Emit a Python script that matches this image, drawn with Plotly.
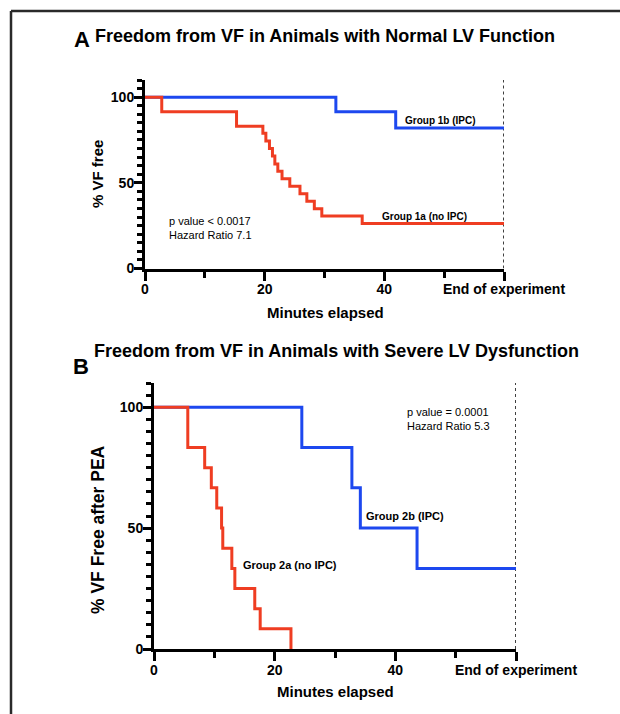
import plotly.graph_objects as go

# ---------------- data ----------------
# Panel A: Normal LV function (Kaplan-Meier step points)
a_ipc_t = [0, 31.9, 41.9, 60]
a_ipc_v = [100, 91.4, 82.0, 82.0]
a_noipc_t = [0, 2.8, 15.3, 19.7, 20.2, 20.8, 21.3, 21.7, 22.2, 22.9, 24.2,
             25.9, 27.05, 28.3, 29.55, 36.3, 60]
a_noipc_v = [100, 91.4, 83.0, 78.9, 74.4, 70.0, 65.6, 61.0, 56.8, 52.4, 48.0,
             43.6, 39.2, 34.8, 30.6, 26.3, 26.3]

# Panel B: Severe LV dysfunction
b_ipc_t = [0, 24.5, 32.8, 34.2, 43.6, 60]
b_ipc_v = [100, 83.33, 66.67, 50.0, 33.33, 33.33]
b_noipc_t = [0, 5.6, 8.4, 9.5, 10.4, 11.2, 11.4, 12.9, 13.4, 16.7, 17.6, 22.7]
b_noipc_v = [100, 83.33, 75.0, 66.67, 58.33, 50.0, 41.67, 33.33, 25.0, 16.67, 8.33, 0]

end_time = [60, 60]
end_span = [0, 110]

x_tickvals = [0, 20, 40, 60]
x_ticktext = ["0", "20", "40", "End of experiment"]
y_tickvals = [0, 50, 100]

RED = "#ef3d22"
BLUE = "#1d48ef"
FONT = "Liberation Sans, Arial, Helvetica, sans-serif"

W, H = 620, 714

def px_x(p):
    return p / W

def px_y(p):
    return 1 - p / H

fig = go.Figure()

# Panel A traces
fig.add_trace(go.Scatter(x=end_time, y=end_span, mode="lines",
                         line=dict(color="black", width=1.5, dash="dot"),
                         xaxis="x", yaxis="y", showlegend=False, hoverinfo="skip"))
fig.add_trace(go.Scatter(x=a_ipc_t, y=a_ipc_v, mode="lines", line_shape="hv",
                         line=dict(color=BLUE, width=3), xaxis="x", yaxis="y",
                         showlegend=False))
fig.add_trace(go.Scatter(x=a_noipc_t, y=a_noipc_v, mode="lines", line_shape="hv",
                         line=dict(color=RED, width=3), xaxis="x", yaxis="y",
                         showlegend=False))

# Panel B traces
fig.add_trace(go.Scatter(x=end_time, y=end_span, mode="lines",
                         line=dict(color="black", width=1.5, dash="dot"),
                         xaxis="x2", yaxis="y2", showlegend=False, hoverinfo="skip"))
fig.add_trace(go.Scatter(x=b_ipc_t, y=b_ipc_v, mode="lines", line_shape="hv",
                         line=dict(color=BLUE, width=3), xaxis="x2", yaxis="y2",
                         showlegend=False))
fig.add_trace(go.Scatter(x=b_noipc_t, y=b_noipc_v, mode="lines", line_shape="hv",
                         line=dict(color=RED, width=3), xaxis="x2", yaxis="y2",
                         showlegend=False))

tickfont = dict(family=FONT, size=14, color="black", weight="bold")

def xaxis_cfg(domain, anchor):
    return dict(domain=domain, anchor=anchor, range=[0, 60], automargin=False,
                tickmode="array", tickvals=x_tickvals, ticktext=x_ticktext,
                ticks="outside", ticklen=9, tickwidth=2.5, tickcolor="black",
                ticklabelstandoff=-3,
                minor=dict(ticks="outside", ticklen=6, tickwidth=2.5, tickcolor="black",
                           dtick=10, tick0=0),
                showline=True, linewidth=3, linecolor="black",
                showgrid=False, zeroline=False, tickfont=tickfont)

def yaxis_cfg(domain, anchor):
    return dict(domain=domain, anchor=anchor, range=[0, 110], automargin=False,
                tickmode="array", tickvals=y_tickvals,
                ticks="outside", ticklen=8, tickwidth=2.5, tickcolor="black",
                ticklabelstandoff=-3,
                minor=dict(ticks="outside", ticklen=5, tickwidth=2.5, tickcolor="black",
                           dtick=5, tick0=0),
                showline=True, linewidth=3, linecolor="black",
                showgrid=False, zeroline=False, tickfont=tickfont)

fig.update_layout(
    template="none",
    width=W, height=H, autosize=False,
    margin=dict(l=0, r=0, t=0, b=0, pad=0),
    paper_bgcolor="white", plot_bgcolor="white",
    xaxis=xaxis_cfg([px_x(145), px_x(504)], "y"),
    yaxis=yaxis_cfg([px_y(268.5), px_y(80)], "x"),
    xaxis2=xaxis_cfg([px_x(154), px_x(516)], "y2"),
    yaxis2=yaxis_cfg([px_y(649), px_y(383)], "x2"),
)

annots = []
def pa(text, x, y, size, bold=True, xanchor="left", yanchor="middle", angle=0):
    annots.append(dict(text=text, x=px_x(x), y=px_y(y), xref="paper", yref="paper",
                       showarrow=False, xanchor=xanchor, yanchor=yanchor, textangle=angle,
                       font=dict(family=FONT, size=size, color="black",
                                 weight="bold" if bold else "normal")))

def da(text, x, y, xr, yr, size, bold=True):
    annots.append(dict(text=text, x=x, y=y, xref=xr, yref=yr, showarrow=False,
                       xanchor="left", yanchor="middle", align="left",
                       font=dict(family=FONT, size=size, color="black",
                                 weight="bold" if bold else "normal")))

# Titles
pa("A", 72, 39, 22)
pa("Freedom from VF in Animals with Normal LV Function", 93, 35.5, 18)
pa("B", 71, 367, 22)
pa("Freedom from VF in Animals with Severe LV Dysfunction", 92, 351, 18)

# Axis titles
pa("Minutes elapsed", 325, 312, 15, xanchor="center")
pa("% VF free", 97, 174, 15, xanchor="center", angle=-90)
pa("Minutes elapsed", 335, 691, 15, xanchor="center")
pa("% VF Free after PEA", 98, 529, 17.5, xanchor="center", angle=-90)

# In-plot labels (data coordinates)
da("p value &lt; 0.0017<br>Hazard Ratio 7.1", 3.6, 23.8, "x", "y", 11, bold=False)
da("Group 1b (IPC)", 43.2, 86.6, "x", "y", 10)
da("Group 1a (no IPC)", 39.2, 30.6, "x", "y", 10)
da("p value = 0.0001<br>Hazard Ratio 5.3", 41.6, 95.1, "x2", "y2", 11, bold=False)
da("Group 2b (IPC)", 34.8, 55.1, "x2", "y2", 11)
da("Group 2a (no IPC)", 14.5, 34.7, "x2", "y2", 11)

fig.update_layout(annotations=annots)

# Frame edges (left and top) kept inside the figure
frame = dict(color="#2a2a2a", width=2.5)
fig.add_shape(type="line", xref="paper", yref="paper",
              x0=px_x(11), x1=px_x(11), y0=0, y1=px_y(11), line=frame, layer="above")
fig.add_shape(type="line", xref="paper", yref="paper",
              x0=px_x(11), x1=1, y0=px_y(11), y1=px_y(11), line=frame, layer="above")

fig.write_html("out.html", config={"displayModeBar": False},
               post_script="document.body.style.margin='0px';document.body.style.padding='0px';")
